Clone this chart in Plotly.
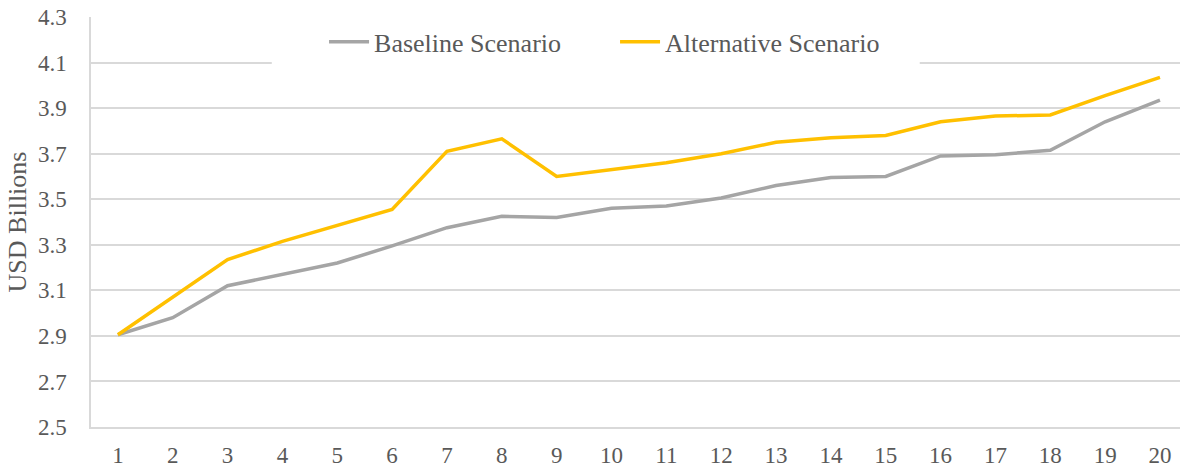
import plotly.graph_objects as go

# x categories (years 1..20)
periods = [str(i) for i in range(1, 21)]

baseline = [2.905, 2.98, 3.12, 3.17, 3.22, 3.295, 3.375, 3.425, 3.42, 3.46,
            3.47, 3.505, 3.56, 3.595, 3.60, 3.69, 3.695, 3.715, 3.84, 3.935]
alternative = [2.905, 3.07, 3.235, 3.315, 3.385, 3.455, 3.71, 3.765, 3.60, 3.63,
               3.66, 3.70, 3.75, 3.77, 3.78, 3.84, 3.865, 3.87, 3.955, 4.035]

y_ticks = [2.5, 2.7, 2.9, 3.1, 3.3, 3.5, 3.7, 3.9, 4.1, 4.3]

FONT = "Liberation Serif, Times New Roman, serif"
TXT = "#595959"
GRID = "#D9D9D9"

fig = go.Figure()
fig.add_trace(go.Scatter(x=periods, y=baseline, mode="lines", name="Baseline Scenario",
                         line=dict(color="#A5A5A5", width=3.5)))
fig.add_trace(go.Scatter(x=periods, y=alternative, mode="lines", name="Alternative Scenario",
                         line=dict(color="#FFC000", width=3.5)))

# source chart is cropped a little on the right, so less padding after "20"
fig.update_xaxes(
    type="category", range=[-0.49, 19.365], automargin=False,
    showgrid=False, showline=True, linecolor=GRID, linewidth=1.5,
    ticks="", ticklabelstandoff=7, tickfont=dict(family=FONT, size=23, color=TXT),
)
fig.update_yaxes(
    range=[2.5, 4.3], tickvals=y_ticks, ticktext=[f"{v:.1f}" for v in y_ticks],
    automargin=False,
    showgrid=True, gridcolor=GRID, gridwidth=1.5,
    showline=True, linecolor=GRID, linewidth=1.5, zeroline=False,
    ticks="", ticklabelstandoff=18,
    tickfont=dict(family=FONT, size=23, color=TXT),
    title=dict(text="USD Billions", font=dict(family=FONT, size=26, color=TXT), standoff=4),
)

# white box behind the legend, hiding the gridline there (as in the source chart)
fig.add_shape(type="rect", xref="paper", yref="paper", layer="above",
              x0=0.166, x1=0.761, y0=0.885, y1=0.995,
              fillcolor="white", line=dict(width=0))

fig.update_layout(
    width=1180, height=467,
    margin=dict(l=91, r=0, t=17, b=40),
    paper_bgcolor="white", plot_bgcolor="white",
    showlegend=True,
    legend=dict(
        orientation="h", x=0.214, xanchor="left", y=0.997, yanchor="top",
        bgcolor="rgba(0,0,0,0)", font=dict(family=FONT, size=26, color=TXT),
        itemwidth=40, entrywidth=236,
    ),
)

# page body has a default 8px margin; drop it so the figure fills the window
fig.write_html("out.html", config={"displayModeBar": False},
               post_script="document.body.style.margin='0';")
